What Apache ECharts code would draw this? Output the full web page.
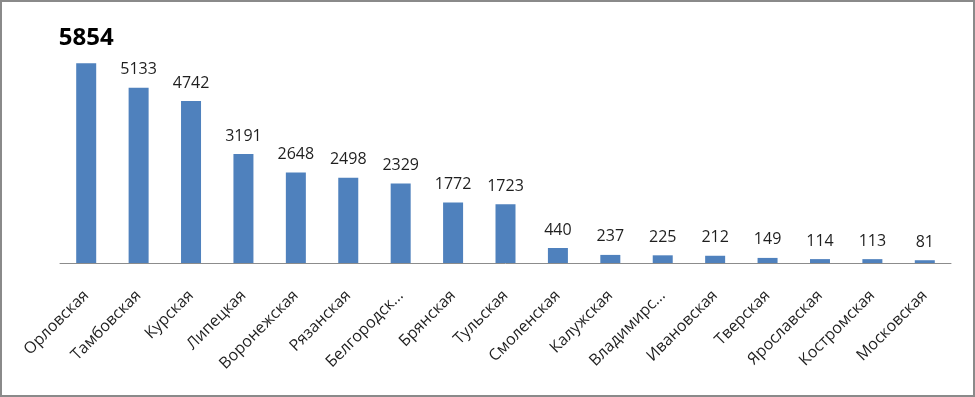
<!DOCTYPE html>
<html>
<head>
<meta charset="utf-8">
<script src="https://cdn.jsdelivr.net/npm/echarts@6/dist/echarts.min.js"></script>
<style>
  html, body { margin: 0; padding: 0; background: #fff; }
  #chart { width: 975px; height: 397px; box-sizing: border-box; border: 2px solid #8a8a8a; }
</style>
</head>
<body>
<div id="chart"></div>
<script>
// регионы и значения
var regions = ['Орловская', 'Тамбовская', 'Курская', 'Липецкая', 'Воронежская', 'Рязанская',
  'Белгородск...', 'Брянская', 'Тульская', 'Смоленская', 'Калужская', 'Владимирс...',
  'Ивановская', 'Тверская', 'Ярославская', 'Костромская', 'Московская'];
var values = [5854, 5133, 4742, 3191, 2648, 2498, 2329, 1772, 1723, 440, 237, 225, 212, 149, 114, 113, 81];

var chart = echarts.init(document.getElementById('chart'));

var seriesData = values.map(function (v, i) {
  if (i === 0) {
    // первое значение выделено
    return { value: v, label: { fontSize: 24, fontWeight: 'bold', color: '#000', distance: 13 } };
  }
  return v;
});

var option = {
  animation: false,
  textStyle: { fontFamily: '"Open Sans", sans-serif' },
  grid: { left: 58, right: 22, top: 22, bottom: 132 },
  xAxis: {
    type: 'category',
    data: regions,
    axisLine: { show: true, lineStyle: { color: '#8c8c8c', width: 1 } },
    axisTick: { show: false },
    axisLabel: {
      rotate: 45,
      interval: 0,
      fontSize: 16,
      color: '#1f1f1f',
      margin: 30
    }
  },
  yAxis: {
    type: 'value',
    min: 0,
    max: 7000,
    show: false,
    splitLine: { show: false }
  },
  series: [{
    type: 'bar',
    data: seriesData,
    barWidth: 20,
    itemStyle: { color: '#4f81bd' },
    label: {
      show: true,
      position: 'top',
      distance: 10,
      fontSize: 16,
      color: '#1f1f1f'
    }
  }]
};

chart.setOption(option);
</script>
</body>
</html>
